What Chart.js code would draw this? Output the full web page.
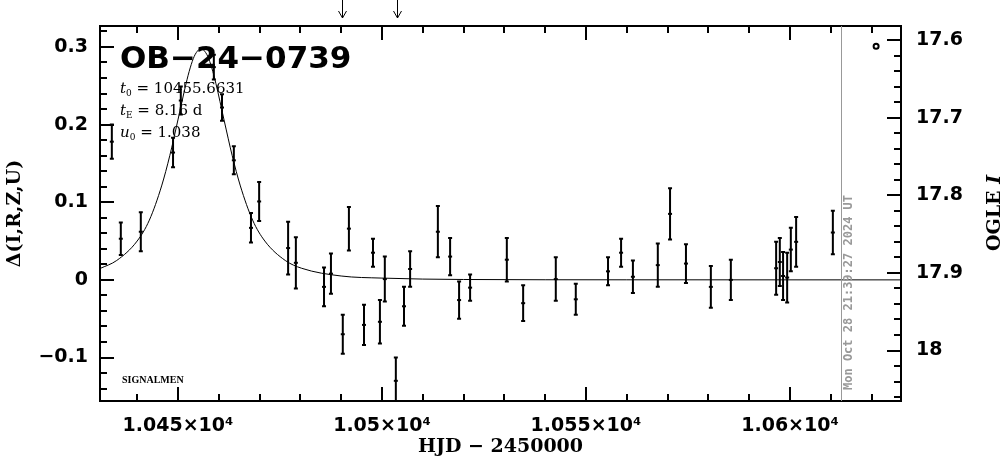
<!DOCTYPE html>
<html>
<head>
<meta charset="utf-8">
<title>OB-24-0739</title>
<script src="https://cdn.jsdelivr.net/npm/chart.js@4/dist/chart.umd.min.js"></script>
<style>
  html, body { margin: 0; padding: 0; background: #fff; }
  canvas { display: block; }
</style>
</head>
<body>
<canvas id="lightcurve" width="1004" height="459"></canvas>
<script>
// Observations: HJD - 2450000, delta mag, error
const obsT = [10433.8, 10436.0, 10440.9, 10448.8, 10450.7, 10458.8, 10460.8, 10463.7,
    10467.9, 10469.9, 10477.0, 10478.9, 10485.8, 10487.5, 10490.4, 10491.9, 10495.6,
    10497.8, 10499.5, 10500.7, 10503.4, 10505.4, 10506.9, 10513.7, 10516.7, 10518.9,
    10521.6, 10530.6, 10534.6, 10542.6, 10547.5, 10555.4, 10558.6, 10561.5, 10567.6,
    10570.6, 10574.5, 10580.6, 10585.5, 10596.6, 10597.5, 10598.3, 10599.3, 10600.2,
    10601.5, 10610.5];
const obsDelta = [0.178, 0.053, 0.062, 0.164, 0.231, 0.274, 0.222, 0.154,
    0.067, 0.101, 0.041, 0.022, -0.009, 0.008, -0.070, 0.066, -0.058,
    0.035, -0.054, 0.001, -0.130, -0.034, 0.014, 0.062, 0.030, -0.026,
    -0.010, 0.026, -0.030, 0.001, -0.025, 0.011, 0.035, 0.004, 0.019,
    0.085, 0.021, -0.009, 0.000, 0.015, 0.023, 0.005, 0.003, 0.039,
    0.049, 0.061];
const obsErr = [0.022, 0.021, 0.025, 0.019, 0.018, 0.016, 0.017, 0.018,
    0.019, 0.025, 0.034, 0.033, 0.025, 0.026, 0.025, 0.028, 0.026,
    0.018, 0.028, 0.029, 0.030, 0.025, 0.023, 0.033, 0.024, 0.024,
    0.017, 0.028, 0.023, 0.028, 0.020, 0.018, 0.018, 0.021, 0.028,
    0.033, 0.025, 0.027, 0.026, 0.034, 0.031, 0.031, 0.032, 0.028,
    0.032, 0.028];

// Model curve
const modelT = [10430.9, 10435, 10440, 10443, 10446, 10448, 10450, 10452, 10453, 10454,
    10455, 10455.7, 10456.3, 10457.3, 10458.3, 10459.3, 10461.3, 10463.3, 10465.3,
    10468.3, 10471.3, 10476.3, 10480.3, 10490, 10500, 10520, 10560, 10627.2];
const modelDelta = [0.0146, 0.025, 0.050, 0.077, 0.121, 0.160, 0.206, 0.253, 0.273, 0.288,
    0.296, 0.298, 0.296, 0.288, 0.273, 0.253, 0.206, 0.160, 0.121,
    0.077, 0.050, 0.025, 0.015, 0.005, 0.0023, 0.0005, 0.0001, 0.0];

// Open circle at top right
const markT = [10621.1];
const markDelta = [0.301];

// Tick labels
const xTickValues = [10450, 10500, 10550, 10600];
const xTickLabels = ['1.045×10⁴', '1.05×10⁴', '1.055×10⁴', '1.06×10⁴'];
const yTickValues = [-0.1, 0, 0.1, 0.2, 0.3];
const yTickLabels = ['−0.1', '0', '0.1', '0.2', '0.3'];
const magTickValues = [17.6, 17.7, 17.8, 17.9, 18];
const magTickLabels = ['17.6', '17.7', '17.8', '17.9', '18'];

// Other marks
const arrowT = [10490.2, 10503.7];
const nowT = 10612.6;
const nowLabel = 'Mon Oct 28 21:39:27 2024 UT';
const eventName = 'OB−24−0739';
const paramLines = [
    ['t', '0', ' = 10455.6631'],
    ['t', 'E', ' = 8.16 d'],
    ['u', '0', ' = 1.038']
];
const footLabel = 'SIGNALMEN';

const tickFont = { family: 'DejaVu Sans', weight: 'bold', size: 19 };
const titleFont = { family: 'DejaVu Serif', weight: 'bold', size: 19 };

function fixTicks(values) {
    return scale => { scale.ticks = values.map(v => ({ value: v })); };
}

// Error bars under the points
const errorBars = {
    id: 'errorBars',
    beforeDatasetsDraw(chart) {
        const ctx = chart.ctx, x = chart.scales.x, y = chart.scales.y, a = chart.chartArea;
        ctx.save();
        ctx.beginPath();
        ctx.rect(a.left, a.top, a.right - a.left, a.bottom - a.top);
        ctx.clip();
        ctx.strokeStyle = '#000';
        ctx.lineWidth = 2;
        obsT.forEach((t, i) => {
            const px = x.getPixelForValue(t);
            const top = y.getPixelForValue(obsDelta[i] + obsErr[i]);
            const bot = y.getPixelForValue(obsDelta[i] - obsErr[i]);
            ctx.beginPath();
            ctx.moveTo(px, top); ctx.lineTo(px, bot);
            ctx.moveTo(px - 2, top); ctx.lineTo(px + 2, top);
            ctx.moveTo(px - 2, bot); ctx.lineTo(px + 2, bot);
            ctx.stroke();
        });
        ctx.restore();
    }
};

// Frame, inward ticks and the text around the plot
const decorations = {
    id: 'decorations',
    afterDraw(chart) {
        const ctx = chart.ctx, a = chart.chartArea;
        const x = chart.scales.x, y = chart.scales.y, y2 = chart.scales.y2;
        ctx.save();
        ctx.strokeStyle = '#000';
        ctx.lineWidth = 2;

        // x ticks, top and bottom
        for (let v = 10440; v <= 10620; v += 10) {
            const px = Math.round(x.getPixelForValue(v));
            const len = v % 50 === 0 ? 14 : 7;
            ctx.beginPath();
            ctx.moveTo(px, a.bottom); ctx.lineTo(px, a.bottom - len);
            ctx.moveTo(px, a.top); ctx.lineTo(px, a.top + len);
            ctx.stroke();
        }
        // left ticks
        for (let k = -7; k <= 16; k++) {
            const py = Math.round(y.getPixelForValue(k * 0.02));
            const len = k % 5 === 0 ? 14 : 7;
            ctx.beginPath();
            ctx.moveTo(a.left, py); ctx.lineTo(a.left + len, py);
            ctx.stroke();
        }
        // right ticks (magnitude)
        for (let k = 0; k <= 23; k++) {
            const py = Math.round(y2.getPixelForValue(17.6 + k * 0.02));
            const len = k % 5 === 0 ? 14 : 7;
            ctx.beginPath();
            ctx.moveTo(a.right, py); ctx.lineTo(a.right - len, py);
            ctx.stroke();
        }
        ctx.strokeRect(a.left, a.top, a.right - a.left, a.bottom - a.top);

        // arrows above the frame
        ctx.lineWidth = 1;
        arrowT.forEach(t => {
            const px = Math.round(x.getPixelForValue(t)) + 0.5;
            ctx.beginPath();
            ctx.moveTo(px, 0); ctx.lineTo(px, 18);
            ctx.moveTo(px - 4, 11); ctx.lineTo(px, 18); ctx.lineTo(px + 4, 11);
            ctx.stroke();
        });

        // time of the plot
        const nx = Math.round(x.getPixelForValue(nowT)) + 0.5;
        ctx.strokeStyle = '#999';
        ctx.beginPath();
        ctx.moveTo(nx, a.top); ctx.lineTo(nx, a.bottom);
        ctx.stroke();
        ctx.save();
        ctx.translate(nx + 7, a.bottom - 11);
        ctx.rotate(-Math.PI / 2);
        ctx.fillStyle = '#999';
        ctx.font = 'bold 12px "DejaVu Sans Mono"';
        ctx.textAlign = 'left';
        ctx.textBaseline = 'middle';
        ctx.fillText(nowLabel, 0, 0);
        ctx.restore();

        // event name and parameters
        ctx.fillStyle = '#000';
        ctx.textBaseline = 'alphabetic';
        ctx.textAlign = 'left';
        ctx.font = 'bold 31px "DejaVu Sans"';
        ctx.fillText(eventName, 120, 68);
        paramLines.forEach((p, i) => {
            const by = 93 + i * 22;
            let cx = 120;
            ctx.font = 'italic 15px "DejaVu Serif"';
            ctx.fillText(p[0], cx, by);
            cx += ctx.measureText(p[0]).width;
            ctx.font = '9px "DejaVu Serif"';
            ctx.fillText(p[1], cx, by + 3);
            cx += ctx.measureText(p[1]).width;
            ctx.font = '15px "DejaVu Serif"';
            ctx.fillText(p[2], cx, by);
        });
        ctx.font = 'bold 10px "Liberation Serif"';
        ctx.fillText(footLabel, 122, 383);

        // right axis title, reading upwards
        ctx.save();
        ctx.translate(995, 213);
        ctx.rotate(-Math.PI / 2);
        ctx.textBaseline = 'middle';
        ctx.font = 'bold 19px "DejaVu Serif"';
        const w1 = ctx.measureText('OGLE ').width;
        ctx.font = 'bold italic 19px "DejaVu Serif"';
        const w2 = ctx.measureText('I').width;
        ctx.font = 'bold 19px "DejaVu Serif"';
        ctx.fillText('OGLE ', -(w1 + w2) / 2, 0);
        ctx.font = 'bold italic 19px "DejaVu Serif"';
        ctx.fillText('I', -(w1 + w2) / 2 + w1, 0);
        ctx.restore();

        ctx.restore();
    }
};

const ctx = document.getElementById('lightcurve').getContext('2d');
const chart = new Chart(ctx, {
    data: {
        datasets: [
            {
                type: 'line',
                label: 'model',
                data: modelT.map((t, i) => ({ x: t, y: modelDelta[i] })),
                borderColor: '#000',
                borderWidth: 1,
                pointRadius: 0,
                cubicInterpolationMode: 'monotone',
                yAxisID: 'y'
            },
            {
                type: 'scatter',
                label: 'OGLE',
                data: obsT.map((t, i) => ({ x: t, y: obsDelta[i] })),
                pointStyle: 'line',
                pointRadius: 2,
                borderColor: '#000',
                borderWidth: 2,
                yAxisID: 'y'
            },
            {
                type: 'scatter',
                label: 'mark',
                data: markT.map((t, i) => ({ x: t, y: markDelta[i] })),
                pointStyle: 'circle',
                pointRadius: 2.5,
                backgroundColor: '#fff',
                borderColor: '#000',
                borderWidth: 2,
                yAxisID: 'y'
            }
        ]
    },
    options: {
        responsive: false,
        animation: false,
        layout: { padding: { top: 26, left: 0, right: 0, bottom: 0 } },
        plugins: {
            legend: { display: false },
            tooltip: { enabled: false }
        },
        scales: {
            x: {
                type: 'linear',
                position: 'bottom',
                min: 10430.9,
                max: 10627.2,
                afterBuildTicks: fixTicks(xTickValues),
                ticks: {
                    callback: v => xTickLabels[xTickValues.indexOf(v)],
                    font: tickFont,
                    color: '#000',
                    padding: 14,
                    maxRotation: 0,
                    autoSkip: false
                },
                grid: { display: false, drawTicks: false },
                border: { display: false },
                title: {
                    display: true,
                    text: 'HJD − 2450000',
                    font: titleFont,
                    color: '#000',
                    padding: { top: 0, bottom: 1 }
                },
                afterFit: s => { s.height = 58; s.paddingLeft = 0; s.paddingRight = 0; }
            },
            y: {
                type: 'linear',
                position: 'left',
                min: -0.156,
                max: 0.327,
                afterBuildTicks: fixTicks(yTickValues),
                ticks: {
                    callback: v => yTickLabels[yTickValues.indexOf(v)],
                    font: tickFont,
                    color: '#000',
                    padding: 12
                },
                grid: { display: false, drawTicks: false },
                border: { display: false },
                title: {
                    display: true,
                    text: 'Δ(I,R,Z,U)',
                    font: titleFont,
                    color: '#000',
                    padding: { top: 4, bottom: 0 }
                },
                afterFit: s => { s.width = 100; s.paddingTop = 0; s.paddingBottom = 0; }
            },
            y2: {
                type: 'linear',
                position: 'right',
                reverse: true,
                min: 17.582,
                max: 18.065,
                afterBuildTicks: fixTicks(magTickValues),
                ticks: {
                    callback: v => magTickLabels[magTickValues.indexOf(v)],
                    font: tickFont,
                    color: '#000',
                    padding: 15
                },
                grid: { display: false, drawTicks: false },
                border: { display: false },
                afterFit: s => { s.width = 103; s.paddingTop = 0; s.paddingBottom = 0; }
            }
        }
    },
    plugins: [errorBars, decorations]
});
</script>
</body>
</html>
